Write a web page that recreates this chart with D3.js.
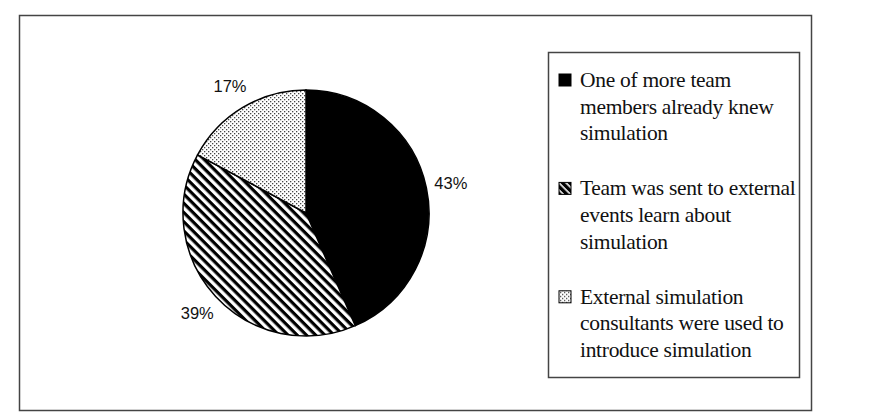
<!doctype html>
<html>
<meta charset="utf-8">
<head>
<script src="https://cdn.jsdelivr.net/npm/d3@7"></script>
<style>
  body { margin: 0; background: #fff; }
</style>
</head>
<body>
<script>
// chart data
var shares = [43, 39, 17];
var sliceLabels = ["43%", "39%", "17%"];
var fills = ["solid", "hatch", "dots"];
var legendLines = [
  ["One of more team", "members already knew", "simulation"],
  ["Team was sent to external", "events learn about", "simulation"],
  ["External simulation", "consultants were used to", "introduce simulation"]
];

var width = 887, height = 420;
var cx = 306, cy = 213, radius = 123;

var svg = d3.select("body").append("svg")
  .attr("width", width)
  .attr("height", height);

var defs = svg.append("defs");

// diagonal hatch, running top-left to bottom-right
var hatch = defs.append("pattern")
  .attr("id", "hatch")
  .attr("patternUnits", "userSpaceOnUse")
  .attr("width", 6.5).attr("height", 6.5)
  .attr("patternTransform", "rotate(45)");
hatch.append("rect").attr("width", 6.5).attr("height", 6.5).attr("fill", "#fff");
hatch.append("rect").attr("x", 0).attr("y", 0).attr("width", 6.5).attr("height", 3.2).attr("fill", "#000");

// small legend hatch, mostly black
var hatchS = defs.append("pattern")
  .attr("id", "hatchS")
  .attr("patternUnits", "userSpaceOnUse")
  .attr("width", 5).attr("height", 5)
  .attr("patternTransform", "rotate(45)");
hatchS.append("rect").attr("width", 5).attr("height", 5).attr("fill", "#000");
hatchS.append("rect").attr("width", 5).attr("height", 1.6).attr("fill", "#fff");

// stipple
var dots = defs.append("pattern")
  .attr("id", "dots")
  .attr("patternUnits", "userSpaceOnUse")
  .attr("width", 4).attr("height", 4);
dots.append("rect").attr("width", 4).attr("height", 4).attr("fill", "#fff");
dots.append("rect").attr("x", 0).attr("y", 0).attr("width", 1.3).attr("height", 1.3).attr("fill", "#444");
dots.append("rect").attr("x", 2).attr("y", 2).attr("width", 1.3).attr("height", 1.3).attr("fill", "#444");

function fillFor(f, small) {
  if (f === "solid") return "#000";
  if (f === "hatch") return small ? "url(#hatchS)" : "url(#hatch)";
  return "url(#dots)";
}

// outer frame
svg.append("rect")
  .attr("x", 19.5).attr("y", 15.5)
  .attr("width", 792).attr("height", 395)
  .attr("fill", "none")
  .attr("stroke", "#444")
  .attr("stroke-width", 1.5);

// pie
var pie = d3.pie().sort(null).value(function(d) { return d; });
var arcs = pie(shares);
var arc = d3.arc().innerRadius(0).outerRadius(radius);
var labelArc = d3.arc().innerRadius(148).outerRadius(148);

var g = svg.append("g").attr("transform", "translate(" + cx + "," + cy + ")");

g.selectAll("path.slice")
  .data(arcs)
  .enter().append("path")
  .attr("class", "slice")
  .attr("d", arc)
  .attr("fill", function(d, i) { return fillFor(fills[i], false); })
  .attr("stroke", "#000")
  .attr("stroke-width", 1.5);

g.selectAll("text.lbl")
  .data(arcs)
  .enter().append("text")
  .attr("class", "lbl")
  .attr("transform", function(d) { return "translate(" + labelArc.centroid(d) + ")"; })
  .attr("text-anchor", "middle")
  .attr("dy", "0.36em")
  .attr("font-family", "Liberation Sans, Arial, sans-serif")
  .attr("font-size", 16.5)
  .attr("fill", "#111")
  .text(function(d, i) { return sliceLabels[i]; });

// legend
var lx = 548, ly = 52;
svg.append("rect")
  .attr("x", lx + 0.5).attr("y", ly + 0.5)
  .attr("width", 251).attr("height", 325)
  .attr("fill", "#fff")
  .attr("stroke", "#444")
  .attr("stroke-width", 1.5);

var lineH = 26.7;
var firstBase = 87;

var items = svg.selectAll("g.item")
  .data(legendLines)
  .enter().append("g")
  .attr("class", "item")
  .attr("transform", function(d, i) { return "translate(0," + (firstBase + i * 4 * 27.1) + ")"; });

items.append("rect")
  .attr("x", 559).attr("y", -13)
  .attr("width", 12).attr("height", 12)
  .attr("fill", function(d, i) { return fillFor(fills[i], true); })
  .attr("stroke", "#000")
  .attr("stroke-width", 1);

items.append("text")
  .attr("x", 580)
  .attr("font-family", "Liberation Serif, Times New Roman, serif")
  .attr("font-size", 21.5)
  .attr("letter-spacing", -0.3)
  .attr("fill", "#111")
  .selectAll("tspan")
  .data(function(d) { return d; })
  .enter().append("tspan")
  .attr("x", 580)
  .attr("y", function(d, i) { return i * lineH; })
  .text(function(d) { return d; });
</script>
</body>
</html>
